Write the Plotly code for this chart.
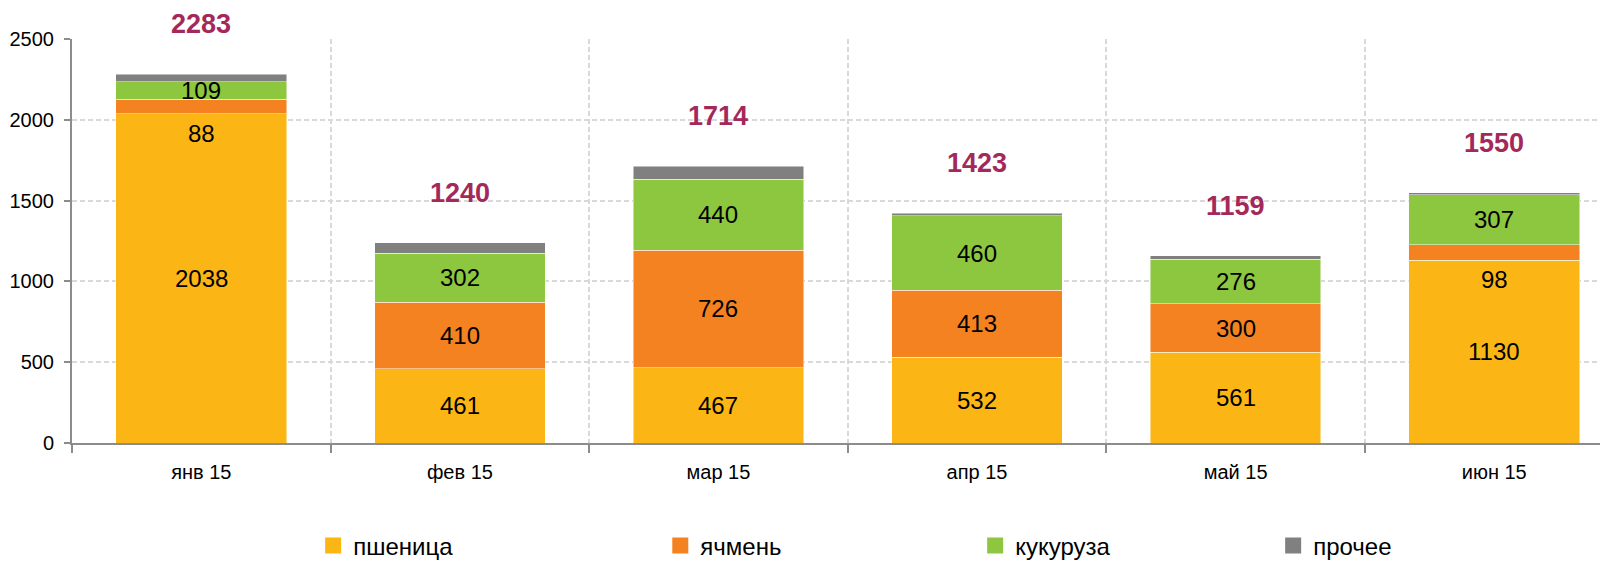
import plotly.graph_objects as go

months = ['янв 15', 'фев 15', 'мар 15', 'апр 15', 'май 15', 'июн 15']
wheat = [2038, 461, 467, 532, 561, 1130]
barley = [88, 410, 726, 413, 300, 98]
corn = [109, 302, 440, 460, 276, 307]
other = [48, 67, 81, 18, 22, 15]
totals = [2283, 1240, 1714, 1423, 1159, 1550]

font_main = "Liberation Sans, Arial, sans-serif"

series = [
    ('пшеница', wheat, '#FBB615'),
    ('ячмень', barley, '#F58220'),
    ('кукуруза', corn, '#8DC63F'),
    ('прочее', other, '#808080'),
]

fig = go.Figure()
for name, vals, col in series:
    fig.add_trace(go.Bar(
        x=months, y=vals, name=name, showlegend=False,
        marker=dict(color=col, line=dict(color='rgba(255,255,255,0.6)', width=0.8)),
    ))

# legend entries: one legend per series so they sit spread out like the original
legend_x = [0.157, 0.383, 0.588, 0.782]
for k, (name, vals, col) in enumerate(series):
    lg = 'legend' if k == 0 else 'legend%d' % (k + 1)
    fig.add_trace(go.Scatter(
        x=[None], y=[None], mode='markers', name=name, legend=lg,
        marker=dict(symbol='square', size=16, color=col),
    ))
    fig.update_layout({lg: dict(
        x=legend_x[k], xanchor='left', y=-0.255, yanchor='middle',
        font=dict(size=24, family=font_main), bgcolor='rgba(0,0,0,0)',
    )})

# segment labels (not for "прочее")
base = [0] * len(months)
for name, vals, col in series[:3]:
    for i, m in enumerate(months):
        mid = base[i] + vals[i] / 2
        fig.add_annotation(
            x=m, y=mid, text=str(vals[i]), showarrow=False,
            font=dict(family=font_main, size=24, color='black'),
            yshift=-27 if vals[i] < 100 and name == 'ячмень' else 0,
        )
    base = [b + v for b, v in zip(base, vals)]

# totals above bars
for m, t in zip(months, totals):
    fig.add_annotation(
        x=m, y=t, text='<b>%d</b>' % t, showarrow=False,
        yanchor='middle', yshift=50,
        font=dict(family=font_main, size=27, color='#A4295B'),
    )

fig.update_layout(
    barmode='stack',
    bargap=0.34,
    width=1600, height=554,
    paper_bgcolor='white',
    plot_bgcolor='white',
    margin=dict(l=64, r=0, t=31, b=119, autoexpand=False),
    font=dict(family=font_main, size=20, color='black'),
    showlegend=True,
)
fig.update_xaxes(
    type='category',
    range=[-0.5, 5.44],
    tickson='boundaries',
    showgrid=True, gridcolor='#D9D9D9', griddash='5px,3px', gridwidth=1.5,
    showline=True, linecolor='#8C8C8C', linewidth=2,
    ticks='outside', ticklen=8, tickcolor='#8C8C8C', tickwidth=2,
    ticklabelstandoff=10,
    tickfont=dict(size=20),
)
fig.update_yaxes(
    range=[0, 2500], dtick=500,
    showgrid=True, gridcolor='#D9D9D9', griddash='5px,3px', gridwidth=1.5,
    showline=True, linecolor='#8C8C8C', linewidth=2,
    ticks='outside', ticklen=6, tickcolor='#8C8C8C', tickwidth=2,
    ticklabelstandoff=6,
    tickfont=dict(size=20),
    zeroline=False,
)

fig.write_html("out.html")
